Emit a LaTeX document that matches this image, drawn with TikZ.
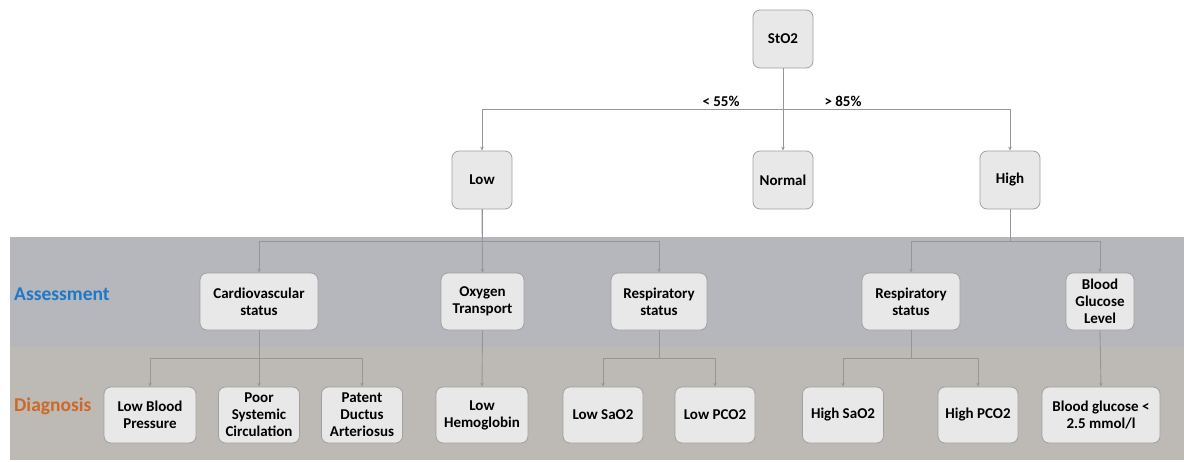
\documentclass[tikz,border=0pt]{standalone}
\usepackage{fontspec}
\setmainfont{Carlito}
\usetikzlibrary{arrows.meta}
\definecolor{bandA}{RGB}{182,183,188}
\definecolor{bandD}{RGB}{189,185,181}
\definecolor{boxfill}{RGB}{232,232,232}
\definecolor{boxline}{RGB}{160,160,160}
\definecolor{lineC}{RGB}{150,150,150}
\definecolor{assessC}{RGB}{30,120,200}
\definecolor{diagC}{RGB}{205,105,40}
\tikzset{
  box/.style={draw=boxline, fill=boxfill, rounded corners=7pt, align=center,
    font=\bfseries\fontsize{15}{17}\selectfont, inner sep=0pt, line width=0.8pt},
  conn/.style={draw=lineC, line width=0.9pt, -{Stealth[length=4pt,width=3.5pt]}},
  seg/.style={draw=lineC, line width=0.9pt},
  lab/.style={font=\bfseries\fontsize{15}{17}\selectfont, inner sep=0pt},
  rowlab/.style={font=\bfseries\fontsize{19.5}{21}\selectfont, anchor=west, inner sep=0pt}
}
\begin{document}
\begin{tikzpicture}[x=1pt,y=-1pt]
\useasboundingbox (0,0) rectangle (1184,461);
\fill[white] (0,0) rectangle (1184,461);
\fill[bandA] (10,237) rectangle (1184,347);
\fill[bandD] (10,347) rectangle (1184,460);
\node[rowlab, text=assessC] (assess) at (14,294) {Assessment};
\node[rowlab, text=diagC] (diag) at (14,406) {Diagnosis};
% top level
\node[box, minimum width=60, minimum height=58] (sto2) at (783,39) {StO2};
\node[box, minimum width=60, minimum height=58] (low) at (482,180) {Low};
\node[box, minimum width=60, minimum height=58] (normal) at (783,180) {Normal};
\node[box, minimum width=60, minimum height=58] (high) at (1010,180) {High};
\coordinate (j0) at (783,109);
\draw[seg] (sto2.south) -- (j0);
\draw[conn] (j0) -| (low.north);
\draw[conn] (j0) -| (high.north);
\draw[conn] (sto2.south) -- (normal.north);
\node[lab] (l55) at (721,101) {< 55\%};
\node[lab] (l85) at (843,101) {> 85\%};
% assessment
\node[box, minimum width=118, minimum height=57] (cardio) at (259,301.5) {Cardiovascular\\status};
\node[box, minimum width=83, minimum height=57] (oxy) at (482.5,301.5) {Oxygen\\Transport};
\node[box, minimum width=96, minimum height=57] (respL) at (659,301.5) {Respiratory\\status};
\node[box, minimum width=98, minimum height=57] (respR) at (911,301.5) {Respiratory\\status};
\node[box, minimum width=68, minimum height=57] (gluc) at (1100,301.5) {Blood\\Glucose\\Level};
\coordinate (jL) at (482,241);
\coordinate (jH) at (1010,241);
\draw[seg] (low.south) -- (jL);
\draw[conn] (jL) -| (cardio.north);
\draw[conn] (jL) -| (respL.north);
\draw[conn] (low.south) -- (oxy.north);
\draw[seg] (high.south) -- (jH);
\draw[conn] (jH) -| (respR.north);
\draw[conn] (jH) -| (gluc.north);
% diagnosis
\node[box, minimum width=92, minimum height=56] (lbp) at (150,415) {Low Blood\\Pressure};
\node[box, minimum width=81, minimum height=56] (psc) at (259,415) {Poor\\Systemic\\Circulation};
\node[box, minimum width=81, minimum height=56] (pda) at (362,415) {Patent\\Ductus\\Arteriosus};
\node[box, minimum width=92, minimum height=56] (lhb) at (482,415) {Low\\Hemoglobin};
\node[box, minimum width=80, minimum height=56] (lsao) at (603,415) {Low SaO2};
\node[box, minimum width=80, minimum height=56] (lpco) at (715,415) {Low PCO2};
\node[box, minimum width=81, minimum height=56] (hsao) at (843,415) {High SaO2};
\node[box, minimum width=80, minimum height=56] (hpco) at (978,415) {High PCO2};
\node[box, minimum width=118, minimum height=56] (bg) at (1101,415) {Blood glucose <\\2.5 mmol/l};
\coordinate (jC) at (259,358);
\coordinate (jR1) at (659,358);
\coordinate (jR2) at (911,358);
\draw[seg] (cardio.south) -- (jC);
\draw[conn] (jC) -| (lbp.north);
\draw[conn] (jC) -| (pda.north);
\draw[conn] (cardio.south) -- (psc.north);
\draw[conn] (oxy.south) -- (lhb.north);
\draw[seg] (respL.south) -- (jR1);
\draw[conn] (jR1) -| (lsao.north);
\draw[conn] (jR1) -| (lpco.north);
\draw[seg] (respR.south) -- (jR2);
\draw[conn] (jR2) -| (hsao.north);
\draw[conn] (jR2) -| (hpco.north);
\draw[conn] (gluc.south) -- (bg.north);
\end{tikzpicture}
\end{document}
